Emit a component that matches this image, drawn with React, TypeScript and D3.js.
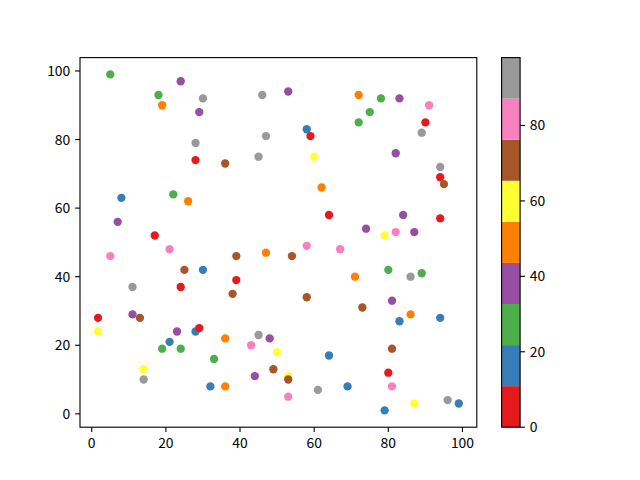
import React from "react";
import * as d3 from "d3";

const xs = [5,24,18,30,19,29,28,28,8,22,26,7,17,21,46,53,58,59,47,45,60,36,62,64,58,67,72,78,83,91,75,72,90,89,82,94,94,95,84,94,74,79,82,87,5,25,30,11,24,1.7,11,13,1.7,23,28,29,21,19,24,33,14,14,32,39,47,54,39,38,58,36,45,48,43,50,64,49,44,53,53,36,53,61,69,80,71,86,89,81,73,86,83,94,81,80,81,87,96,99,79];
const ys = [99,97,93,92,90,88,79,74,63,64,62,56,52,48,93,94,83,81,81,75,75,73,66,58,49,48,93,92,92,90,88,85,85,82,76,72,69,67,58,57,54,52,53,53,46,42,42,37,37,28,29,28,24,24,24,25,21,19,19,16,13,10,8,46,47,46,39,35,34,22,23,22,20,18,17,13,11,11,10,8,5,7,8,42,40,40,41,33,31,29,27,28,19,12,8,3,4,3,1];
const cs = [27,38,25,93,49,40,90,0,16,28,47,36,5,82,95,39,17,6,91,94,60,71,50,4,80,83,48,29,37,84,26,24,8,92,41,98,3,72,35,7,38,58,81,40,79,70,15,89,2,6,37,74,62,34,19,9,13,30,23,27,56,96,18,69,52,73,1,67,75,45,88,42,85,63,20,68,33,59,71,53,78,97,12,31,46,90,22,39,70,51,14,16,66,5,86,61,94,17,11];

const set1 = ["#e41a1c","#377eb8","#4daf4a","#984ea3","#ff7f00","#ffff33","#a65628","#f781bf","#999999"];
const xTicks = [0,20,40,60,80,100];
const yTicks = [0,20,40,60,80,100];
const cTicks = [0,20,40,60,80];

const W = 640, H = 480;
const L = 80, R = 476.8, T = 57.6, B = 427.2;
const CB0 = 501.6, CB1 = 520.1;
const font = "'Noto Sans CJK SC', 'DejaVu Sans', sans-serif";
const fs = 13.9;
const tickLen = 4.86;

function pad(ext: [number, number]): [number, number] {
  const r = ext[1] - ext[0];
  return [ext[0] - 0.05 * r, ext[1] + 0.05 * r];
}

export default function App() {
  const x = d3.scaleLinear().domain(pad(d3.extent(xs) as [number, number])).range([L, R]);
  const y = d3.scaleLinear().domain(pad(d3.extent(ys) as [number, number])).range([B, T]);
  const cExt = d3.extent(cs) as [number, number];
  const color = d3.scaleQuantize<string>().domain(cExt).range(set1);
  const cy = d3.scaleLinear().domain(cExt).range([B, T]);
  const bandW = (cExt[1] - cExt[0]) / set1.length;
  const r = 4.17;
  return (
    <div style={{ position: "fixed", left: 0, top: 0 }}>
      <svg width={W} height={H} style={{ display: "block", background: "#fff" }}>
        <g>
          {xs.map((xv, i) => (
            <circle key={i} cx={x(xv)} cy={y(ys[i])} r={r} fill={color(cs[i])} />
          ))}
        </g>
        <rect x={L} y={T} width={R - L} height={B - T} fill="none" stroke="#000" strokeWidth={1.11} />
        {xTicks.map((t) => (
          <g key={"x" + t}>
            <line x1={x(t)} x2={x(t)} y1={B} y2={B + tickLen} stroke="#000" strokeWidth={1.11} />
            <text x={x(t)} y={B + tickLen + 4.86 + 10.6} textAnchor="middle" fontFamily={font} fontSize={fs}>{t}</text>
          </g>
        ))}
        {yTicks.map((t) => (
          <g key={"y" + t}>
            <line x1={L - tickLen} x2={L} y1={y(t)} y2={y(t)} stroke="#000" strokeWidth={1.11} />
            <text x={L - tickLen - 4.86} y={y(t)} dy="0.36em" textAnchor="end" fontFamily={font} fontSize={fs}>{t}</text>
          </g>
        ))}
        {set1.map((c, i) => (
          <rect key={"cb" + i} x={CB0} width={CB1 - CB0}
            y={cy(cExt[0] + (i + 1) * bandW)} height={cy(cExt[0] + i * bandW) - cy(cExt[0] + (i + 1) * bandW)}
            fill={c} />
        ))}
        <rect x={CB0} y={T} width={CB1 - CB0} height={B - T} fill="none" stroke="#000" strokeWidth={1.11} />
        {cTicks.map((t) => (
          <g key={"c" + t}>
            <line x1={CB1} x2={CB1 + tickLen} y1={cy(t)} y2={cy(t)} stroke="#000" strokeWidth={1.11} />
            <text x={CB1 + tickLen + 4.86} y={cy(t)} dy="0.36em" textAnchor="start" fontFamily={font} fontSize={fs}>{t}</text>
          </g>
        ))}
      </svg>
    </div>
  );
}
